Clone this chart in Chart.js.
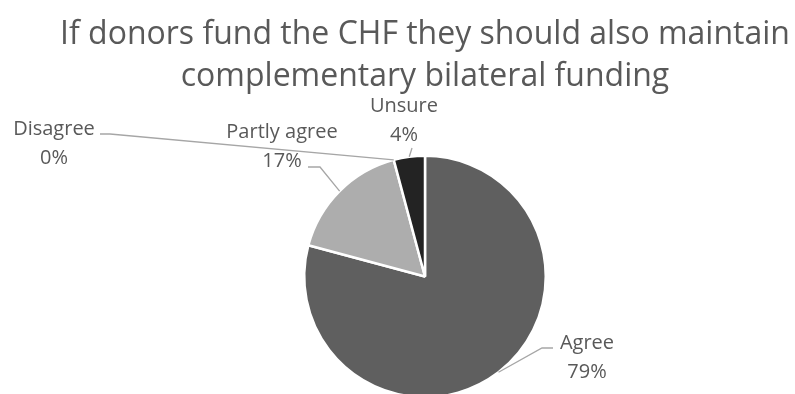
<!DOCTYPE html>
<html>
<head>
<meta charset="utf-8">
<script src="https://cdn.jsdelivr.net/npm/chart.js@4.4.1/dist/chart.umd.min.js"></script>
<style>
  html, body { margin: 0; padding: 0; background: #ffffff; overflow: hidden; }
  #wrap { position: relative; width: 795px; height: 420px; }
</style>
</head>
<body>
<div id="wrap"><canvas id="chart" width="795" height="420"></canvas></div>
<script>
// Survey responses (number of respondents per answer)
const categories = ['Agree', 'Partly agree', 'Disagree', 'Unsure'];
const responses = [19, 4, 0, 1];
const sliceColors = ['#5f5f5f', '#adadad', '#8c8c8c', '#232323'];
const titleLines = ['If donors fund the CHF they should also maintain', 'complementary bilateral funding'];

// Label placement: text centre x, name baseline y and leader-line elbow for each slice
const labelLayout = [
  { x: 587, y: 349, elbow: [[553, 348], [542, 348]] },
  { x: 282, y: 138, elbow: [[308, 167], [320, 167]] },
  { x: 54,  y: 135, elbow: [[100, 134], [110, 134]] },
  { x: 404, y: 112, elbow: [[412, 148], [412, 148]] }
];

const TEXT = '#595959';
const FONT = '"Open Sans", "DejaVu Sans", sans-serif';

const total = responses.reduce((a, b) => a + b, 0);
const pctText = v => Math.round(v / total * 100) + '%';

const calloutPlugin = {
  id: 'callouts',
  afterDraw(chart) {
    const ctx = chart.ctx;
    ctx.save();
    // Title
    ctx.fillStyle = TEXT;
    ctx.font = '32px ' + FONT;
    ctx.textAlign = 'center';
    ctx.textBaseline = 'alphabetic';
    ctx.fillText(titleLines[0], 425, 44);
    ctx.fillText(titleLines[1], 425, 86);

    // Slice labels with leader lines
    const meta = chart.getDatasetMeta(0);
    meta.data.forEach((arc, i) => {
      const p = arc.getProps(['x', 'y', 'startAngle', 'endAngle', 'outerRadius'], true);
      const mid = (p.startAngle + p.endAngle) / 2;
      const ex = p.x + Math.cos(mid) * p.outerRadius;
      const ey = p.y + Math.sin(mid) * p.outerRadius;
      const L = labelLayout[i];
      ctx.strokeStyle = '#a6a6a6';
      ctx.lineWidth = 1.3;
      ctx.beginPath();
      ctx.moveTo(L.elbow[0][0], L.elbow[0][1]);
      ctx.lineTo(L.elbow[1][0], L.elbow[1][1]);
      ctx.lineTo(ex, ey);
      ctx.stroke();

      ctx.fillStyle = TEXT;
      ctx.font = '20px ' + FONT;
      ctx.textAlign = 'center';
      ctx.textBaseline = 'alphabetic';
      ctx.fillText(categories[i], L.x, L.y);
      ctx.fillText(pctText(responses[i]), L.x, L.y + 29);
    });
    ctx.restore();
  }
};

new Chart(document.getElementById('chart'), {
  type: 'pie',
  data: {
    labels: categories,
    datasets: [{
      data: responses,
      backgroundColor: sliceColors,
      borderColor: '#ffffff',
      borderWidth: 2.5
    }]
  },
  options: {
    responsive: false,
    animation: false,
    events: [],
    layout: { padding: { left: 303, right: 248, top: 154, bottom: 21 } },
    plugins: {
      legend: { display: false },
      title: { display: false },
      tooltip: { enabled: false }
    }
  },
  plugins: [calloutPlugin]
});
</script>
</body>
</html>
